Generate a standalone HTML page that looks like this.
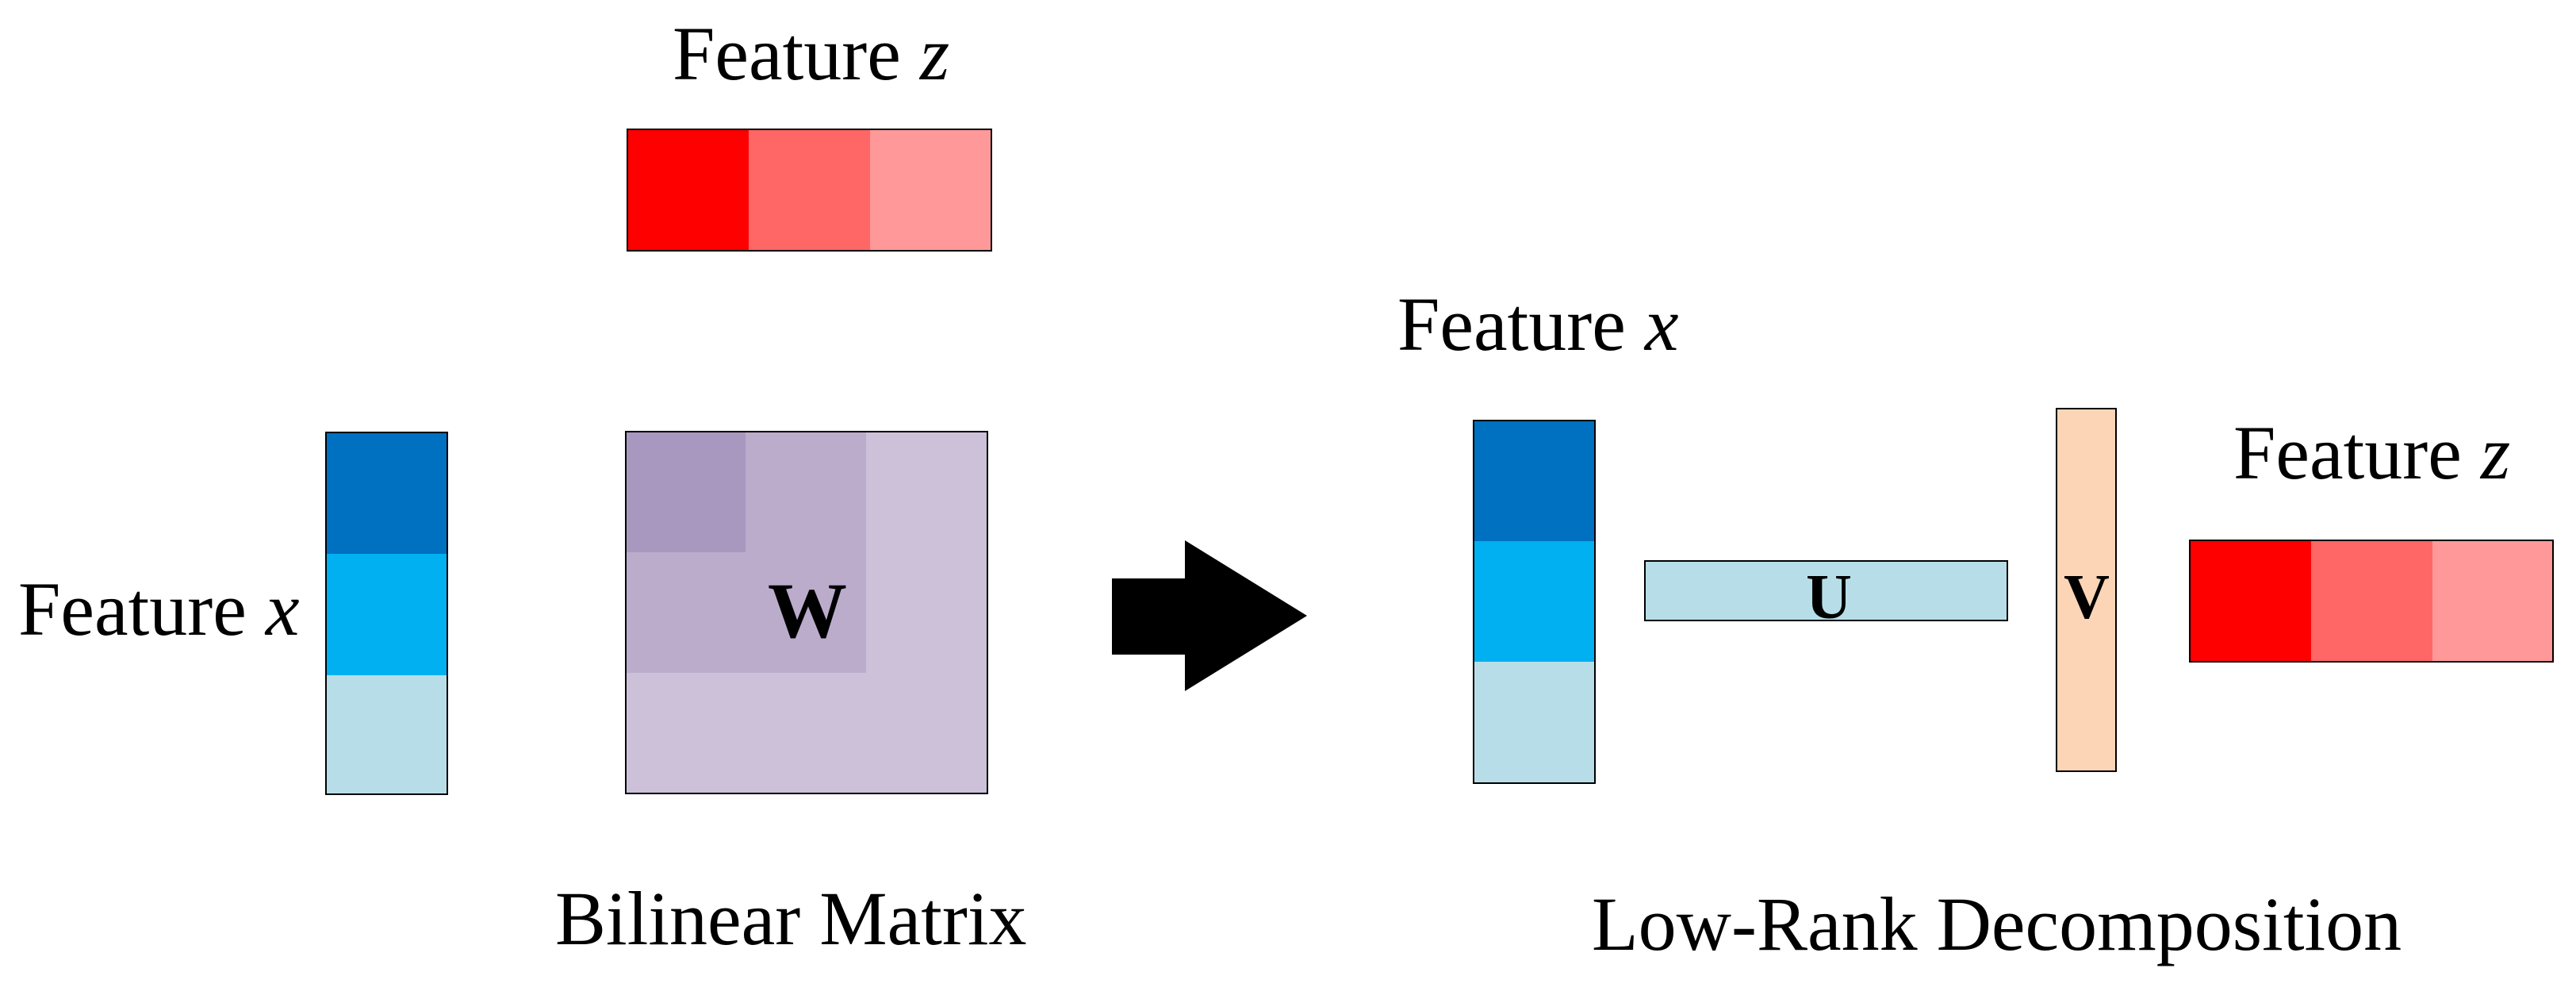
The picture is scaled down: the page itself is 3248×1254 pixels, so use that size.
<!DOCTYPE html>
<html><head><meta charset="utf-8"><style>
html,body{margin:0;padding:0;background:#fff;}
svg{display:block;}
text{font-family:"Liberation Serif",serif;fill:#000;}
</style></head><body>
<svg width="3248" height="1254" viewBox="0 0 3248 1254" xmlns="http://www.w3.org/2000/svg">
<!-- top feature z -->
<text x="848" y="100" font-size="96">Feature <tspan font-style="italic">z</tspan></text>
<rect x="791" y="163" width="153" height="153" fill="#FF0000"/>
<rect x="944" y="163" width="153" height="153" fill="#FF6666"/>
<rect x="1097" y="163" width="153" height="153" fill="#FF9999"/>
<rect x="791" y="163" width="459" height="153" fill="none" stroke="#000" stroke-width="2"/>

<!-- left feature x -->
<text x="23" y="800" font-size="96">Feature <tspan font-style="italic">x</tspan></text>
<rect x="411" y="545" width="153" height="153" fill="#0070C0"/>
<rect x="411" y="698" width="153" height="153" fill="#00B0F0"/>
<rect x="411" y="851" width="153" height="150" fill="#B7DEE8"/>
<rect x="411" y="545" width="153" height="456" fill="none" stroke="#000" stroke-width="2"/>

<!-- W matrix -->
<rect x="789" y="544" width="456" height="456" fill="#CCC1D9"/>
<rect x="789" y="544" width="303" height="304" fill="#BBACCC"/>
<rect x="789" y="544" width="151" height="152" fill="#A898BF"/>
<rect x="789" y="544" width="456" height="456" fill="none" stroke="#000" stroke-width="2"/>
<text x="1018" y="803" font-size="100" font-weight="bold" text-anchor="middle">W</text>
<text x="700" y="1190" font-size="96">Bilinear Matrix</text>

<!-- arrow -->
<polygon points="1402,729 1494,729 1494,681 1648,776 1494,871 1494,825 1402,825" fill="#000"/>

<!-- right -->
<text x="1762" y="441" font-size="96">Feature <tspan font-style="italic">x</tspan></text>
<rect x="1858" y="530" width="153" height="152" fill="#0070C0"/>
<rect x="1858" y="682" width="153" height="152" fill="#00B0F0"/>
<rect x="1858" y="834" width="153" height="153" fill="#B7DEE8"/>
<rect x="1858" y="530" width="153" height="457" fill="none" stroke="#000" stroke-width="2"/>

<rect x="2074" y="707" width="457" height="75" fill="#B7DEE8" stroke="#000" stroke-width="2"/>
<text x="2306" y="779" font-size="80" font-weight="bold" text-anchor="middle">U</text>

<rect x="2593" y="515" width="75" height="457" fill="#FBD5B5" stroke="#000" stroke-width="2"/>
<text x="2631" y="779" font-size="80" font-weight="bold" text-anchor="middle">V</text>

<text x="2816" y="603" font-size="96">Feature <tspan font-style="italic">z</tspan></text>
<rect x="2761" y="681" width="153" height="153" fill="#FF0000"/>
<rect x="2914" y="681" width="153" height="153" fill="#FF6666"/>
<rect x="3067" y="681" width="152" height="153" fill="#FF9999"/>
<rect x="2761" y="681" width="458" height="153" fill="none" stroke="#000" stroke-width="2"/>

<text x="2007" y="1197" font-size="96">Low-Rank Decomposition</text>
</svg>
</body></html>
